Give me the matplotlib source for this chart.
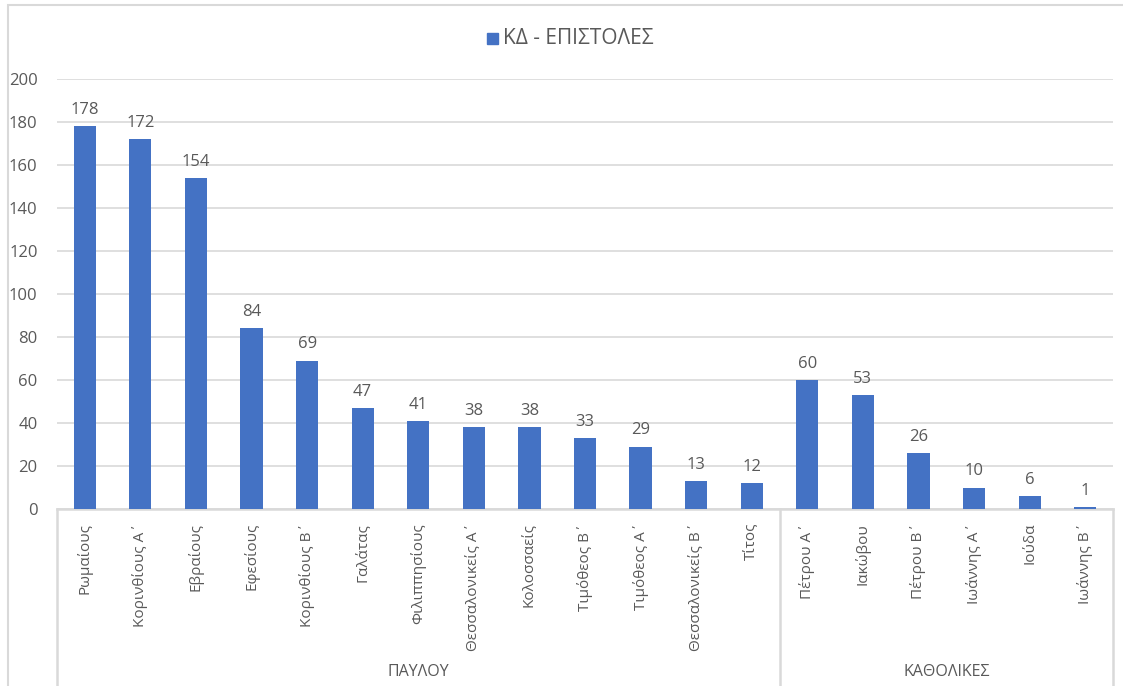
import matplotlib.pyplot as plt
from matplotlib.patches import Rectangle

plt.rcParams['font.family'] = ['Open Sans', 'DejaVu Sans']

categories = ["Ρωμαίους", "Κορινθίους Α΄", "Εβραίους", "Εφεσίους", "Κορινθίους Β΄",
              "Γαλάτας", "Φιλιππησίους", "Θεσσαλονικείς Α΄", "Κολοσσαείς", "Τιμόθεος Β΄",
              "Τιμόθεος Α΄", "Θεσσαλονικείς Β΄", "Τίτος",
              "Πέτρου Α΄", "Ιακώβου", "Πέτρου Β΄", "Ιωάννης Α΄", "Ιούδα", "Ιωάννης Β΄"]
values = [178, 172, 154, 84, 69, 47, 41, 38, 38, 33, 29, 13, 12,
          60, 53, 26, 10, 6, 1]
groups = ["ΠΑΥΛΟΥ", "ΚΑΘΟΛΙΚΕΣ"]
group_sizes = [13, 6]
series_name = "ΚΔ - ΕΠΙΣΤΟΛΕΣ"
yticks = [0, 20, 40, 60, 80, 100, 120, 140, 160, 180, 200]

W, H = 1123, 686
BLUE = "#4472c4"
TXT = "#595959"
GRID = "#d9d9d9"

fig = plt.figure(figsize=(W / 100, H / 100), dpi=100)
ax = fig.add_axes([57 / W, (H - 509) / H, (1113 - 57) / W, 430 / H])

x = list(range(len(categories)))
ax.bar(x, values, width=0.4, color=BLUE, zorder=3)
for xi, v in zip(x, values):
    ax.annotate(str(v), (xi, v), xytext=(0, 6), textcoords="offset points",
                ha="center", va="bottom", fontsize=12, color=TXT)

ax.set_xlim(-0.5, len(categories) - 0.5)
ax.set_ylim(0, 200)
ax.set_yticks(yticks)
ax.yaxis.grid(True, color=GRID, lw=1.2, zorder=0)
ax.tick_params(axis="y", length=0, pad=14, labelsize=12, labelcolor=TXT)
ax.set_xticks(x)
ax.set_xticklabels(categories, rotation=90, fontsize=11, color=TXT, va="top")
ax.tick_params(axis="x", length=0, pad=10)
for s in ["top", "right", "left"]:
    ax.spines[s].set_visible(False)
ax.spines["bottom"].set_color(GRID)
ax.spines["bottom"].set_linewidth(1.8)

# multi-level category box
trans = ax.get_xaxis_transform()
bottom_y = -177 / 430
edges = [-0.5]
for n in group_sizes:
    edges.append(edges[-1] + n)
for e in edges:
    ax.plot([e, e], [0, bottom_y], transform=trans, color=GRID, lw=1.8, clip_on=False)
start = -0.5
for g, n in zip(groups, group_sizes):
    ax.text(start + n / 2, -163 / 430, g, transform=trans, ha="center", va="center",
            fontsize=11.5, color=TXT)
    start += n

# legend
fig.patches.append(Rectangle((487 / W, (H - 44) / H), 11 / W, 11 / H,
                             transform=fig.transFigure, color=BLUE))
fig.text(503 / W, (H - 38) / H, series_name, ha="left", va="center",
         fontsize=15, color=TXT)

# chart border
fig.patches.append(Rectangle((8 / W, -0.01), 1.1, (H - 5) / H + 0.01,
                             transform=fig.transFigure, fill=False,
                             edgecolor=GRID, lw=1.5))

fig.savefig("out.png", dpi=100)
